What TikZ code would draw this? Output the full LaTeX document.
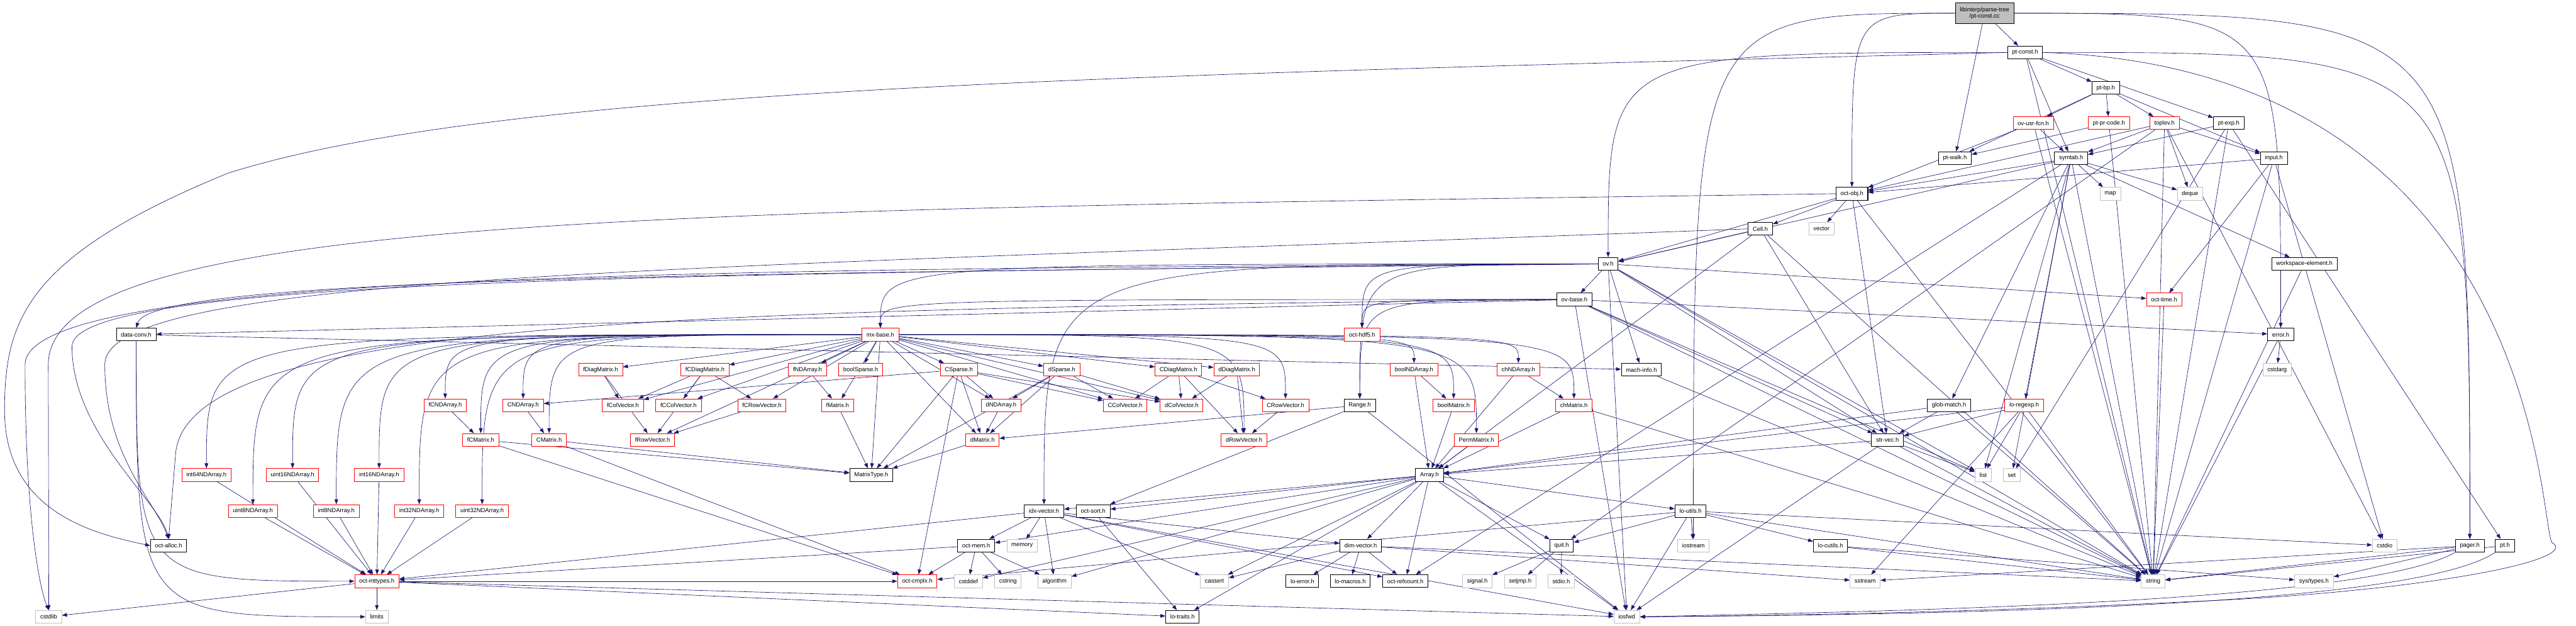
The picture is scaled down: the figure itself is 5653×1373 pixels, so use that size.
\documentclass[tikz,border=0pt]{standalone}
\usepackage{fontspec}
\setmainfont{Liberation Sans}
\usetikzlibrary{arrows.meta,backgrounds}
\definecolor{edgeblue}{HTML}{191970}
\definecolor{boxgray}{HTML}{BFBFBF}
\definecolor{boxred}{HTML}{FF0000}

\begin{document}
\begin{tikzpicture}[x=1pt,y=-1pt,
	every node/.style={font=\fontsize{13}{15}\selectfont},
	hdr/.style={draw=black, fill=white, line width=1.4pt, minimum height=28pt, inner xsep=10pt, inner ysep=1pt},
	redhdr/.style={hdr, draw=boxred, line width=1.2pt},
	syshdr/.style={hdr, draw=boxgray, line width=1.2pt},
	dep/.style={draw=edgeblue, line width=0.9pt, -{Triangle[length=11pt,width=8pt]}},
	every edge/.style={dep},
	drop/.style={to path={.. controls (\tikztotarget |- \tikztostart) .. (\tikztotarget) \tikztonodes}},
	rise/.style={to path={.. controls (\tikztostart |- \tikztotarget) .. (\tikztotarget) \tikztonodes}}]
	\useasboundingbox (0,0) rectangle (5653,1373);

	\node[hdr, fill=boxgray, align=center, minimum height=46pt] (root) at (4355,29) {libinterp/parse-tree\\/pt-const.cc};
	\node[hdr] (ptconsth) at (4444,115) {pt-const.h};
	\node[hdr] (ptbp) at (4621,193) {pt-bp.h};
	\node[redhdr] (ovusrfcn) at (4462,270) {ov-usr-fcn.h};
	\node[redhdr] (ptprcode) at (4628,270) {pt-pr-code.h};
	\node[redhdr] (toplev) at (4750,270) {toplev.h};
	\node[hdr] (ptexp) at (4891,270) {pt-exp.h};
	\node[hdr] (ptwalk) at (4290,347) {pt-walk.h};
	\node[hdr] (symtab) at (4545,347) {symtab.h};
	\node[hdr] (input) at (4990,347) {input.h};
	\node[hdr] (octobj) at (4064,425) {oct-obj.h};
	\node[syshdr] (hmap) at (4631,425) {map};
	\node[syshdr] (deque) at (4806,425) {deque};
	\node[hdr] (cell) at (3863,502) {Cell.h};
	\node[syshdr] (vector) at (3997,502) {vector};
	\node[hdr] (ov) at (3529,579) {ov.h};
	\node[hdr] (wselem) at (5057,579) {workspace-element.h};
	\node[hdr] (ovbase) at (3455,657) {ov-base.h};
	\node[redhdr] (octtime) at (4749,657) {oct-time.h};

	\node[hdr] (dataconv) at (299,734) {data-conv.h};
	\node[redhdr] (mxbase) at (1932,734) {mx-base.h};
	\node[redhdr] (octhdf) at (2989,734) {oct-hdf5.h};
	\node[hdr] (error) at (5005,734) {error.h};

	\node[redhdr] (fDiag) at (1318,811) {fDiagMatrix.h};
	\node[redhdr] (fCDiag) at (1547,811) {fCDiagMatrix.h};
	\node[redhdr] (fND) at (1772,811) {fNDArray.h};
	\node[redhdr] (boolSp) at (1889,811) {boolSparse.h};
	\node[redhdr] (CSp) at (2104,811) {CSparse.h};
	\node[redhdr] (dSp) at (2330,811) {dSparse.h};
	\node[redhdr] (CDiag) at (2586,811) {CDiagMatrix.h};
	\node[redhdr] (dDiag) at (2714,811) {dDiagMatrix.h};
	\node[redhdr] (boolND) at (3103,811) {boolNDArray.h};
	\node[redhdr] (chND) at (3332,811) {chNDArray.h};
	\node[hdr] (machinfo) at (3602,811) {mach-info.h};
	\node[syshdr] (cstdarg) at (4997,811) {cstdarg};

	\node[redhdr] (fCND) at (977,889) {fCNDArray.h};
	\node[redhdr] (CND) at (1148,889) {CNDArray.h};
	\node[redhdr] (fColV) at (1367,889) {fColVector.h};
	\node[redhdr] (fCColV) at (1489,889) {fCColVector.h};
	\node[redhdr] (fCRowV) at (1672,889) {fCRowVector.h};
	\node[redhdr] (fMat) at (1838,889) {fMatrix.h};
	\node[redhdr] (dND) at (2197,889) {dNDArray.h};
	\node[redhdr] (CColV) at (2469,889) {CColVector.h};
	\node[redhdr] (dColV) at (2593,889) {dColVector.h};
	\node[redhdr] (CRowV) at (2821,889) {CRowVector.h};
	\node[hdr] (range) at (2984,889) {Range.h};
	\node[redhdr] (boolMat) at (3190,889) {boolMatrix.h};
	\node[redhdr] (chMat) at (3454,889) {chMatrix.h};
	\node[hdr] (glob) at (4277,889) {glob-match.h};
	\node[redhdr] (regexp) at (4442,889) {lo-regexp.h};

	\node[redhdr] (fCMat) at (1055,965) {fCMatrix.h};
	\node[redhdr] (CMat) at (1205,965) {CMatrix.h};
	\node[redhdr] (fRowV) at (1432,965) {fRowVector.h};
	\node[redhdr] (dMat) at (2156,965) {dMatrix.h};
	\node[redhdr] (dRowV) at (2730,965) {dRowVector.h};
	\node[redhdr] (perm) at (3240,965) {PermMatrix.h};
	\node[hdr] (strvec) at (4142,965) {str-vec.h};

	\node[redhdr] (i64) at (453,1042) {int64NDArray.h};
	\node[redhdr] (u16) at (642,1042) {uint16NDArray.h};
	\node[redhdr] (i16) at (832,1042) {int16NDArray.h};
	\node[hdr] (mtype) at (1912,1042) {MatrixType.h};
	\node[hdr] (array) at (3137,1042) {Array.h};
	\node[syshdr] (hlist) at (4352,1042) {list};
	\node[syshdr] (hset) at (4415,1042) {set};

	\node[redhdr] (u8) at (555,1121) {uint8NDArray.h};
	\node[redhdr] (i8) at (738,1121) {int8NDArray.h};
	\node[redhdr] (i32) at (920,1121) {int32NDArray.h};
	\node[redhdr] (u32) at (1058,1121) {uint32NDArray.h};
	\node[hdr] (idxvec) at (2291,1121) {idx-vector.h};
	\node[hdr] (octsort) at (2399,1121) {oct-sort.h};
	\node[hdr] (loutils) at (3710,1121) {lo-utils.h};

	\node[hdr] (octalloc) at (370,1197) {oct-alloc.h};
	\node[hdr] (octmem) at (2142,1197) {oct-mem.h};
	\node[syshdr] (memory) at (2243,1197) {memory};
	\node[hdr] (dimvec) at (2986,1197) {dim-vector.h};
	\node[hdr] (quit) at (3427,1197) {quit.h};
	\node[syshdr] (iostream) at (3716,1197) {iostream};
	\node[hdr] (locutils) at (4017,1197) {lo-cutils.h};
	\node[syshdr] (cstdio) at (5233,1197) {cstdio};
	\node[hdr] (pager) at (5420,1197) {pager.h};
	\node[hdr] (pt) at (5497,1197) {pt.h};

	\node[redhdr] (inttypes) at (827,1275) {oct-inttypes.h};
	\node[redhdr] (cmplx) at (2013,1275) {oct-cmplx.h};
	\node[syshdr] (cstddef) at (2125,1275) {cstddef};
	\node[syshdr] (cstring) at (2212,1275) {cstring};
	\node[syshdr] (algorithm) at (2314,1275) {algorithm};
	\node[syshdr] (cassert) at (2665,1275) {cassert};
	\node[hdr] (loerror) at (2858,1275) {lo-error.h};
	\node[hdr] (lomacros) at (2963,1275) {lo-macros.h};
	\node[hdr] (refcount) at (3084,1275) {oct-refcount.h};
	\node[syshdr] (signal) at (3242,1275) {signal.h};
	\node[syshdr] (setjmp) at (3336,1275) {setjmp.h};
	\node[syshdr] (stdio) at (3426,1275) {stdio.h};
	\node[syshdr] (sstream) at (4093,1275) {sstream};
	\node[syshdr] (string) at (4725,1275) {string};
	\node[syshdr] (systypes) at (5078,1275) {sys/types.h};

	\node[syshdr] (cstdlib) at (107,1353) {cstdlib};
	\node[syshdr] (limits) at (827,1353) {limits};
	\node[hdr] (lotraits) at (2595,1353) {lo-traits.h};
	\node[syshdr] (iosfwd) at (3570,1353) {iosfwd};

	\begin{scope}[on background layer]
	\path (root) edge (ptconsth) edge (ptwalk) edge[drop] (octobj) edge[drop] (iostream) edge[drop] (error) edge[drop] (pager);
	\path (ptconsth) edge (ptbp) edge (ptexp) edge (symtab) edge[drop] (ov) edge (string) edge[drop] (pager);
	\draw[dep] (ptconsth.west) .. controls (2500,165) and (1100,190) .. (500,380) .. controls (60,560) and (10,700) .. (10,900) .. controls (10,1120) and (200,1170) .. (octalloc.west);
	\draw[dep] (ptconsth.east) .. controls (5573,150) and (5573,1150) .. (5600,1190) .. controls (5670,1230) and (5300,1300) .. (4800,1320) .. controls (4300,1345) and (3800,1352) .. (iosfwd.east);
	\path (ptbp) edge (ovusrfcn) edge (ptprcode) edge (toplev) edge (ptwalk) edge (input);
	\path (ovusrfcn) edge (symtab) edge (octobj) edge (string);
	\path (ptprcode) edge (ptwalk) edge (string);
	\path (toplev) edge (symtab) edge (deque) edge (input) edge (string) edge (cstdio) edge (quit) edge (octobj);
	\path (ptexp) edge (pt) edge (symtab) edge (string) edge (hset);
	\path (input) edge (octobj) edge (octtime) edge (string) edge (cstdio);
	\path (symtab) edge (octobj) edge (hmap) edge (hlist) edge (hset) edge (string) edge (deque) edge (wselem) edge (glob) edge (regexp) edge (ov) edge (refcount);
	\path (octobj) edge (cell) edge (vector) edge (strvec) edge (ov) edge (string);
	\draw[dep] (octobj.west) .. controls (1500,460) and (106,470) .. (106,800) -- (cstdlib.north);
	\path (cell) edge (ov) edge (array) edge (strvec) edge (string);
	\draw[dep] (cell.west) .. controls (1500,590) and (230,600) .. (230,800) .. controls (230,1000) and (340,1100) .. (octalloc.north);
	\path (ov) edge (ovbase) edge (iosfwd) edge (string) edge (hlist) edge[drop] (range) edge[drop] (idxvec) edge (machinfo) edge[drop] (mxbase) edge (octtime) edge (strvec) edge[drop] (octhdf);
	\draw[dep] (ov.west) .. controls (1500,590) and (55,600) .. (55,800) .. controls (55,1150) and (90,1300) .. (cstdlib.north);
	\draw[dep] (ov.west) .. controls (1500,600) and (330,610) .. (dataconv.north);
	\draw[dep] (ov.west) .. controls (1500,600) and (158,610) .. (158,760) .. controls (158,950) and (350,1100) .. (octalloc.north);
	\path (ovbase) edge[drop] (mxbase) edge (dataconv) edge[drop] (range) edge (iosfwd) edge (hlist) edge (string) edge (strvec) edge[drop] (octhdf) edge (error);
	\draw[dep] (ovbase.west) .. controls (1500,680) and (400,700) .. (385,1000) -- (octalloc.north);
	\path (mxbase) edge (fDiag) edge (fCDiag) edge (fND) edge (boolSp) edge (CSp) edge (dSp) edge (CDiag) edge (dDiag) edge[drop] (boolND) edge[drop] (chND)
		edge[drop] (fCND) edge[drop] (CND) edge (fColV) edge (fCColV) edge (fCRowV) edge (fMat) edge (dND) edge (CColV) edge (dColV) edge[drop] (CRowV)
		edge[drop] (boolMat) edge[drop] (chMat) edge[drop] (fCMat) edge[drop] (CMat) edge (fRowV) edge (dMat) edge[drop] (dRowV) edge[drop] (perm)
		edge[drop] (i64) edge[drop] (u16) edge[drop] (i16) edge[drop] (u8) edge[drop] (i8) edge[drop] (i32) edge[drop] (u32) edge (mtype);
	\path (dataconv) edge (machinfo) edge[rise] (limits) edge[rise] (inttypes);
	\path (fDiag) edge (fColV) edge (fRowV);
	\path (fCDiag) edge (fColV) edge (fCColV) edge (fCRowV) edge (fRowV);
	\path (fND) edge (fMat);
	\path (CSp) edge (CND) edge (dND) edge (dMat) edge (CColV) edge (dColV) edge (cmplx) edge (mtype);
	\path (dSp) edge (dND) edge (dMat) edge (CColV) edge (dColV) edge (mtype);
	\path (CDiag) edge (CColV) edge (dColV) edge (CRowV) edge (dRowV);
	\path (dDiag) edge (dColV) edge (dRowV);
	\path (CRowV) edge (dRowV);
	\path (dND) edge (dMat);
	\path (dMat) edge (mtype);
	\path (CND) edge (CMat);
	\path (fCND) edge (fCMat);
	\path (fMat) edge (mtype);
	\path (fCRowV) edge (fRowV);
	\path (fCMat) edge (mtype) edge (cmplx);
	\path (CMat) edge (mtype) edge (cmplx);
	\path (boolND) edge (boolMat) edge (array);
	\path (boolMat) edge (array);
	\path (chND) edge (chMat) edge (array);
	\path (chMat) edge (array) edge (string);
	\path (perm) edge (array);
	\path (range) edge (iosfwd) edge (dMat) edge (octsort);
	\path (array) edge (idxvec) edge (octsort) edge (dimvec) edge (quit) edge (loutils) edge (iosfwd) edge (refcount) edge (cassert) edge (cstddef) edge (algorithm) edge (lotraits) edge (octmem);
	\path (idxvec) edge (octmem) edge (memory) edge (algorithm) edge (cassert) edge (iosfwd) edge (dimvec) edge (inttypes) edge (refcount);
	\path (octsort) edge (lotraits);
	\path (octmem) edge (cmplx) edge (cstddef) edge (cstring) edge (algorithm) edge (inttypes);
	\path (loutils) edge (iostream) edge (quit) edge (string) edge (iosfwd) edge (cstdio) edge (locutils) edge (cmplx);
	\path (dimvec) edge (loerror) edge (lomacros) edge (refcount) edge (cassert) edge (sstream) edge (string);
	\path (quit) edge (signal) edge (setjmp) edge (stdio);
	\path (strvec) edge (hlist) edge (string) edge (array) edge (iosfwd);
	\path (glob) edge (strvec) edge (string) edge (array);
	\path (regexp) edge (strvec) edge (hlist) edge (sstream) edge (string) edge (array);
	\path (locutils) edge (systypes) edge (string);
	\path (pager) edge (string) edge (systypes) edge (sstream);
	\draw[dep] (pager.south west) .. controls (5200,1320) and (4200,1340) .. (iosfwd.east);
	\path (pt) edge (string);
	\draw[dep] (pt.south west) .. controls (5300,1330) and (4300,1348) .. (iosfwd.east);
	\path (error) edge (cstdarg) edge (string);
	\path (wselem) edge (string);
	\path (octtime) edge (string);
	\path (machinfo) edge (string);
	\path (i64) edge (inttypes);
	\path (u16) edge (inttypes);
	\path (i16) edge (inttypes);
	\path (u8) edge (inttypes);
	\path (i8) edge (inttypes);
	\path (i32) edge (inttypes);
	\path (u32) edge (inttypes);
	\path (inttypes) edge (cstdlib) edge (limits) edge (lotraits) edge (iosfwd) edge (cmplx);
	\end{scope}
\end{tikzpicture}
\end{document}
